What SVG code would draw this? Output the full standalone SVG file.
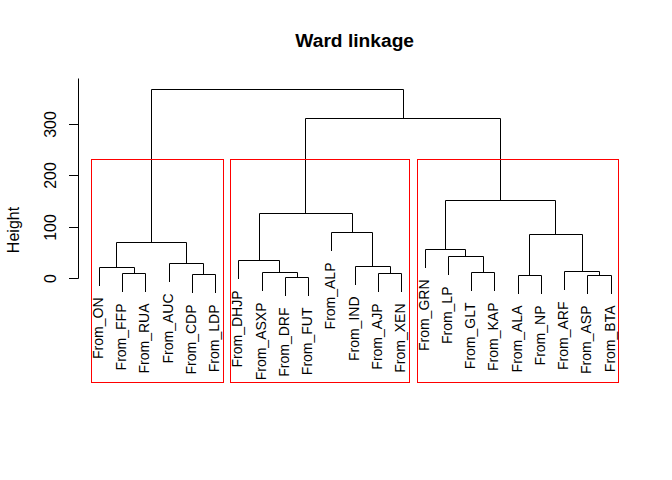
<svg xmlns="http://www.w3.org/2000/svg" width="672" height="480" viewBox="0 0 672 480">
<style>
text{font-family:"Liberation Sans",Arial,sans-serif;fill:#000}
.leaf text{font-size:14px;text-anchor:end}
.ax{font-size:16px;text-anchor:middle}
.ln{fill:none;stroke:#000;stroke-width:1}
.box{fill:none;stroke:#ff0000;stroke-width:1}
</style>
<rect width="672" height="480" fill="#fff"/>
<text x="354.7" y="46.5" font-size="19.2" font-weight="bold" text-anchor="middle">Ward linkage</text>
<g id="axis">
<path class="ln" d="M78.5 78.5V278.5M69 278.5H78.5M69 227.5H78.5M69 175.5H78.5M69 124.5H78.5"/>
<text class="ax" transform="translate(55.5,278.5) rotate(-90)">0</text>
<text class="ax" transform="translate(55.5,227.5) rotate(-90)">100</text>
<text class="ax" transform="translate(55.5,175.5) rotate(-90)">200</text>
<text class="ax" transform="translate(55.5,124.5) rotate(-90)">300</text>
<text class="ax" transform="translate(19,230) rotate(-90)">Height</text>
</g>
<g id="connectors" class="ln">
<path d="M122.5 292V273.5H145.5V292"/>
<path d="M99.5 286V267.5H134.5V273.5"/>
<path d="M192.5 293V274.5H215.5V293"/>
<path d="M169.5 282V263.5H203.5V274.5"/>
<path d="M116.5 267.5V242.5H186.5V263.5"/>
<path d="M285.5 296V277.5H308.5V296"/>
<path d="M262.5 291V272.5H297.5V277.5"/>
<path d="M238.5 279V260.5H279.5V272.5"/>
<path d="M378.5 292V273.5H401.5V292"/>
<path d="M355.5 285V266.5H390.5V273.5"/>
<path d="M331.5 251V232.5H372.5V266.5"/>
<path d="M259.5 260.5V213.5H352.5V232.5"/>
<path d="M471.5 291V272.5H494.5V291"/>
<path d="M448.5 275V256.5H483.5V272.5"/>
<path d="M425.5 268V249.5H465.5V256.5"/>
<path d="M518.5 294V275.5H541.5V294"/>
<path d="M587.5 294V275.5H611.5V294"/>
<path d="M564.5 290V271.5H599.5V275.5"/>
<path d="M529.5 275.5V234.5H582.5V271.5"/>
<path d="M445.5 249.5V200.5H555.5V234.5"/>
<path d="M305.5 213.5V118.5H500.5V200.5"/>
<path d="M151.5 242.5V89.5H403.5V118.5"/>
</g>
<g id="clusters">
<rect class="box" x="91.5" y="159.5" width="132" height="223"/>
<rect class="box" x="230.5" y="159.5" width="179" height="223"/>
<rect class="box" x="417.5" y="159.5" width="201" height="223"/>
</g>
<g class="leaf">
<g id="From_ON"><text transform="translate(103.3,297.5) rotate(-90)">From_ON</text></g>
<g id="From_FFP"><text transform="translate(126.3,303.5) rotate(-90)">From_FFP</text></g>
<g id="From_RUA"><text transform="translate(149.3,303.5) rotate(-90)">From_RUA</text></g>
<g id="From_AUC"><text transform="translate(173.3,293.5) rotate(-90)">From_AUC</text></g>
<g id="From_CDP"><text transform="translate(196.3,304.5) rotate(-90)">From_CDP</text></g>
<g id="From_LDP"><text transform="translate(219.3,304.5) rotate(-90)">From_LDP</text></g>
<g id="From_DHJP"><text transform="translate(242.3,290.5) rotate(-90)">From_DHJP</text></g>
<g id="From_ASXP"><text transform="translate(266.3,302.5) rotate(-90)">From_ASXP</text></g>
<g id="From_DRF"><text transform="translate(289.3,307.5) rotate(-90)">From_DRF</text></g>
<g id="From_FUT"><text transform="translate(312.3,307.5) rotate(-90)">From_FUT</text></g>
<g id="From_ALP"><text transform="translate(335.3,262.5) rotate(-90)">From_ALP</text></g>
<g id="From_IND"><text transform="translate(359.3,296.5) rotate(-90)">From_IND</text></g>
<g id="From_AJP"><text transform="translate(382.3,303.5) rotate(-90)">From_AJP</text></g>
<g id="From_XEN"><text transform="translate(405.3,303.5) rotate(-90)">From_XEN</text></g>
<g id="From_GRN"><text transform="translate(429.3,279.5) rotate(-90)">From_GRN</text></g>
<g id="From_LP"><text transform="translate(452.3,286.5) rotate(-90)">From_LP</text></g>
<g id="From_GLT"><text transform="translate(475.3,302.5) rotate(-90)">From_GLT</text></g>
<g id="From_KAP"><text transform="translate(498.3,302.5) rotate(-90)">From_KAP</text></g>
<g id="From_ALA"><text transform="translate(522.3,305.5) rotate(-90)">From_ALA</text></g>
<g id="From_NP"><text transform="translate(545.3,305.5) rotate(-90)">From_NP</text></g>
<g id="From_ARF"><text transform="translate(568.3,301.5) rotate(-90)">From_ARF</text></g>
<g id="From_ASP"><text transform="translate(591.3,305.5) rotate(-90)">From_ASP</text></g>
<g id="From_BTA"><text transform="translate(615.3,305.5) rotate(-90)">From_BTA</text></g>
</g>
</svg>
